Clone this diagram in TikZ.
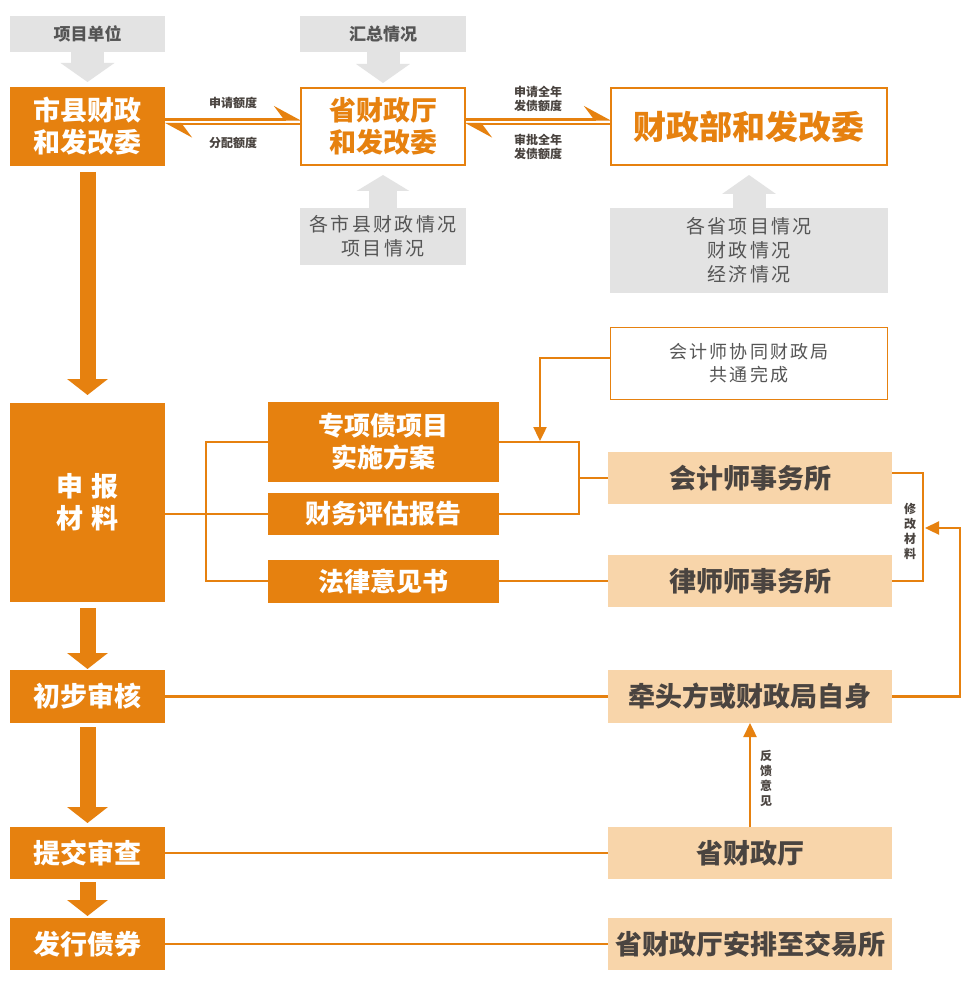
\documentclass[tikz,border=0pt]{standalone}
\usepackage{fontspec}
\setmainfont{Noto Sans CJK SC}
\newfontfamily\spacedfont{Noto Sans CJK SC}[LetterSpace=12]
\usetikzlibrary{arrows.meta,calc}
\definecolor{org}{HTML}{E6810F}
\definecolor{tanc}{HTML}{F8D5AA}
\definecolor{gboxc}{HTML}{E3E3E3}
\definecolor{gtext}{HTML}{555555}
\definecolor{dtext}{HTML}{4A4440}
\begin{document}
\begin{tikzpicture}[x=1pt,y=-1pt,
  box/.style={rectangle, inner sep=0pt, outer sep=0pt, align=center},
  obox/.style={box, fill=org, text=white, font=\bfseries\fontsize{27}{32}\selectfont},
  wbox/.style={box, draw=org, line width=2.2pt, fill=white, text=org, font=\bfseries\fontsize{27}{32}\selectfont},
  gbox/.style={box, fill=gboxc, text=gtext, font=\bfseries\fontsize{17}{21}\selectfont},
  gboxs/.style={box, fill=gboxc, text=gtext, font=\spacedfont\fontsize{19}{24}\selectfont},
  tbox/.style={box, fill=tanc, text=dtext, font=\bfseries\fontsize{27}{32}\selectfont},
  oline/.style={draw=org, line width=2.4pt},
  bigarrow/.style={draw=org, line width=16pt, -{Triangle[width=40pt,length=16pt]}},
  garrow/.style={draw=gboxc, line width=33pt, -{Triangle[width=53pt,length=19pt]}},
  smalllab/.style={text=dtext, font=\bfseries\fontsize{12}{14}\selectfont, align=center, inner sep=1pt},
  vlab/.style={text=dtext, font=\bfseries\fontsize{12}{15}\selectfont, align=center, inner sep=0pt},
  harpR/.style={-{Stealth[harpoon,length=25pt,width=27pt,inset=10pt]}},
  tipA/.style={-{Triangle[width=13pt,length=14pt]}}
]
\useasboundingbox[fill=white] (0,0) rectangle (967,1000);

% top row
\node[gbox, minimum width=155pt, minimum height=36pt] (g1) at (87.5,34) {项目单位};
\node[gbox, minimum width=166pt, minimum height=36pt] (g2) at (383,34) {汇总情况};
\node[obox, minimum width=155pt, minimum height=79pt] (a1) at (87.5,126.5) {市县财政\\和发改委};
\node[wbox, minimum width=164pt, minimum height=77pt] (a2) at (383,126.5) {省财政厅\\和发改委};
\node[wbox, minimum width=276pt, minimum height=77pt, font=\bfseries\fontsize{33}{38}\selectfont] (a3) at (749,126.5) {财政部和发改委};
\node[gboxs, minimum width=166pt, minimum height=57pt] (g3) at (383,236.5) {各市县财政情况\\项目情况};
\node[gboxs, minimum width=278pt, minimum height=85pt] (g4) at (749,250.5) {各省项目情况\\财政情况\\经济情况};

% gray block arrows
\draw[garrow, shorten >=5pt] (g1.south) -- (a1.north);
\draw[garrow, shorten >=5pt] (g2.south) -- (a2.north);
\draw[garrow, line width=28pt, -{Triangle[width=52pt,length=16pt]}, shorten >=10pt] (g3.north) -- (a2.south);
\draw[garrow, shorten >=10pt] (g4.north) -- (a3.south);

% double arrows
\draw[oline, line width=2.2pt, harpR] ([yshift=7pt]a1.east) -- ([yshift=7pt]a2.west)
  node[midway, above=9pt, smalllab] (l1) {申请额度};
\draw[oline, line width=2.2pt, harpR] ([yshift=2.5pt]a2.west) -- ([yshift=2.5pt]a1.east)
  node[midway, below=11pt, smalllab] (l2) {分配额度};
\draw[oline, line width=2.2pt, harpR] ([yshift=7pt]a2.east) -- ([yshift=7pt]a3.west)
  node[midway, above=6pt, smalllab] (l3) {申请全年\\发债额度};
\draw[oline, line width=2.2pt, harpR] ([yshift=2.5pt]a3.west) -- ([yshift=2.5pt]a2.east)
  node[midway, below=8pt, smalllab] (l4) {审批全年\\发债额度};

% left column
\node[obox, minimum width=155pt, minimum height=199pt] (m) at (87.5,502.5) {申\hspace{8pt}报\\材\hspace{8pt}料};
\node[obox, minimum width=155pt, minimum height=53pt] (s1) at (87.5,696.5) {初步审核};
\node[obox, minimum width=155pt, minimum height=52pt] (s2) at (87.5,853) {提交审查};
\node[obox, minimum width=155pt, minimum height=52pt] (s3) at (87.5,944) {发行债券};

\draw[bigarrow, shorten <=6pt, shorten >=8pt] (a1.south) -- (m.north);
\draw[bigarrow, shorten <=6pt, shorten >=1pt] (m.south) -- (s1.north);
\draw[bigarrow, shorten <=4pt, shorten >=4pt] (s1.south) -- (s2.north);
\draw[bigarrow, shorten <=3pt, shorten >=2pt] (s2.south) -- (s3.north);

% middle documents
\node[obox, minimum width=231pt, minimum height=80pt, font=\bfseries\fontsize{26}{32}\selectfont] (p1) at (383.5,442) {专项债项目\\实施方案};
\node[obox, minimum width=231pt, minimum height=42pt, font=\bfseries\fontsize{26}{32}\selectfont] (p2) at (383.5,514) {财务评估报告};
\node[obox, minimum width=231pt, minimum height=43pt, font=\bfseries\fontsize{26}{32}\selectfont] (p3) at (383.5,581) {法律意见书};

% right column
\node[box, draw=org, line width=1.5pt, fill=white, text=gtext, font=\spacedfont\fontsize{18}{23}\selectfont,
      minimum width=277pt, minimum height=72pt] (b0) at (749,363.5) {会计师协同财政局\\共通完成};
\node[tbox, minimum width=284pt, minimum height=52pt] (t1) at (750,478) {会计师事务所};
\node[tbox, minimum width=284pt, minimum height=52pt] (t2) at (750,581) {律师师事务所};
\node[tbox, minimum width=284pt, minimum height=53pt] (t3) at (750,696.5) {牵头方或财政局自身};
\node[tbox, minimum width=284pt, minimum height=52pt] (t4) at (750,853) {省财政厅};
\node[tbox, minimum width=284pt, minimum height=52pt] (t5) at (750,944) {省财政厅安排至交易所};

% helper coordinates
\coordinate (xL) at (206,0);
\coordinate (xR) at (579,0);
\coordinate (tipB) at (540,441);
\coordinate (xM) at (923,0);
\coordinate (fb) at (960,528);
\coordinate (fbtip) at (925,528);

% brackets
\draw[oline] (m.east |- p2.west) -- (p2.west);
\draw[oline] (p1.west) -| (xL |- p3.west) -- (p3.west);
\draw[oline] (p1.east) -| (xR |- p2.east) -- (p2.east);
\draw[oline] (xR |- t1.west) -- (t1.west);
\draw[oline] (p3.east) -- (t2.west);
\draw[oline, tipA] ([yshift=5.5pt]b0.west) -| (tipB);

% modify loop
\draw[oline] ([yshift=5pt]t1.east) -| (xM |- t2.east) -- (t2.east);
\node[vlab] (vm) at (910,531) {修\\改\\材\\料};
\draw[oline, tipA] (t3.east) -| (fb) -- (fbtip);

% horizontal links
\draw[oline] (s1.east) -- (t3.west);
\draw[oline] (s2.east) -- (t4.west);
\draw[oline] (s3.east) -- (t5.west);

% feedback
\draw[oline, tipA] (t4.north) -- (t3.south);
\node[vlab] (vf) at (766,778) {反\\馈\\意\\见};
\end{tikzpicture}
\end{document}
